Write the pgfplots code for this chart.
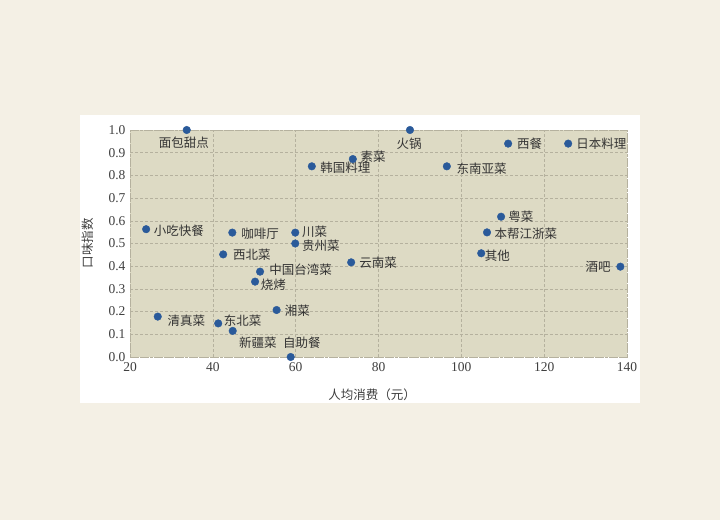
\documentclass[border=0pt]{standalone}
\usepackage{fontspec}
\setmainfont{Liberation Serif}
\newfontfamily\cjk{Noto Sans CJK SC}
\usepackage{pgfplots}
\pgfplotsset{compat=1.18}
\definecolor{pagebg}{HTML}{F4F0E5}
\definecolor{plotbg}{HTML}{DDDAC4}
\definecolor{dotc}{HTML}{2A5A9A}
\definecolor{gridc}{HTML}{B5B19E}
\begin{document}
\begin{tikzpicture}[x=1pt,y=1pt]
\fill[pagebg] (0,0) rectangle (720,520);
\useasboundingbox (0,0) rectangle (720,520);
\fill[white] (80,117) rectangle (640,404.5);
\begin{axis}[
  at={(130pt,163pt)}, anchor=south west,
  scale only axis, width=497pt, height=227pt,
  xmin=20, xmax=140, ymin=0, ymax=1.0,
  xtick={20,40,...,140}, ytick={0,0.1,...,1.0},
  yticklabel style={/pgf/number format/fixed, /pgf/number format/fixed zerofill, /pgf/number format/precision=1, xshift=-1pt},
  /pgf/number format/assume math mode=true,
  tick label style={font=\fontsize{13.5}{15}\selectfont, text=black!75},
  major tick length=0pt,
  xticklabel style={yshift=-2pt},
  axis background/.style={fill=plotbg},
  axis line style={gridc, densely dotted},
  grid=major,
  major grid style={gridc, densely dashed, line width=0.5pt},
  clip=false,
  xlabel={\cjk 人均消费（元）},
  ylabel={\cjk 口味指数},
  label style={font=\fontsize{12.5}{14}\selectfont, text=black!75},
  xlabel style={at={(axis description cs:0.487,-0.167)}, anchor=center},
  ylabel style={at={(axis description cs:-0.0845,0.502)}, anchor=center},
]
\addplot[only marks, mark=*, mark size=3.8pt, color=dotc, mark options={draw=dotc, fill=dotc}] coordinates {
(33.7,1.0) (87.6,1.0) (111.3,0.94) (125.8,0.94) (73.8,0.872) (63.9,0.84)
(96.5,0.84) (23.9,0.563) (44.7,0.548) (59.9,0.548) (59.9,0.50) (42.5,0.452)
(109.6,0.618) (106.2,0.549) (104.8,0.457) (73.4,0.417) (138.4,0.398)
(51.4,0.376) (50.2,0.332) (55.4,0.207) (26.7,0.178) (41.3,0.148)
(44.8,0.115) (58.8,0.0)
};
\begin{scope}[every node/.style={font=\cjk\fontsize{12.5}{14}\selectfont, text=black!80, inner sep=0pt, anchor=center}]
\node at (axis cs:33.0,0.943) {面包甜点};
\node at (axis cs:87.4,0.938) {火锅};
\node at (axis cs:116.5,0.938) {西餐};
\node at (axis cs:133.8,0.938) {日本料理};
\node at (axis cs:78.7,0.882) {素菜};
\node at (axis cs:72.0,0.833) {韩国料理};
\node at (axis cs:104.9,0.831) {东南亚菜};
\node at (axis cs:31.8,0.556) {小吃快餐};
\node at (axis cs:51.4,0.542) {咖啡厅};
\node at (axis cs:64.6,0.552) {川菜};
\node at (axis cs:66.1,0.489) {贵州菜};
\node at (axis cs:49.4,0.449) {西北菜};
\node at (axis cs:114.4,0.618) {粤菜};
\node at (axis cs:115.6,0.542) {本帮江浙菜};
\node at (axis cs:108.7,0.446) {其他};
\node at (axis cs:79.9,0.417) {云南菜};
\node at (axis cs:133.0,0.398) {酒吧};
\node at (axis cs:61.2,0.383) {中国台湾菜};
\node at (axis cs:54.6,0.320) {烧烤};
\node at (axis cs:60.4,0.204) {湘菜};
\node at (axis cs:33.6,0.160) {清真菜};
\node at (axis cs:47.2,0.160) {东北菜};
\node at (axis cs:50.9,0.063) {新疆菜};
\node at (axis cs:61.5,0.063) {自助餐};
\end{scope}
\end{axis}
\end{tikzpicture}
\end{document}
